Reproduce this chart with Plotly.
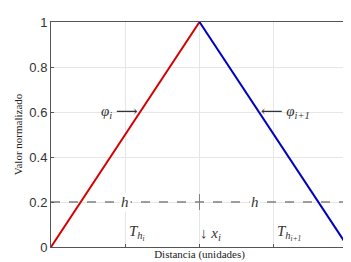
import plotly.graph_objects as go

x_left = [0, 2]
y_left = [0, 1]
x_right = [2, 4]
y_right = [1, 0]
h_level = 0.2
y_ticks = [0, 0.2, 0.4, 0.6, 0.8, 1]
y_ticklabels = ["0", "0.2", "0.4", "0.6", "0.8", "1"]
x_grid = [0, 1, 2, 3, 4]

fig = go.Figure()
fig.add_trace(go.Scatter(x=x_left, y=y_left, mode="lines",
                         line=dict(color="#d40000", width=2), showlegend=False))
fig.add_trace(go.Scatter(x=x_right, y=y_right, mode="lines",
                         line=dict(color="#0000c0", width=2), showlegend=False))
fig.add_trace(go.Scatter(x=[0, 4], y=[h_level, h_level], mode="lines",
                         line=dict(color="#808080", width=1.5, dash="dash"), showlegend=False))
fig.add_trace(go.Scatter(x=[2, 2], y=[h_level - 0.035, h_level + 0.035], mode="lines",
                         line=dict(color="#808080", width=1), showlegend=False))

mfont = dict(family="Liberation Serif, DejaVu Serif, serif", size=15, color="#333333")
ann = [
    (1.2, 0.6, "<i>φ<sub>i</sub></i> ⟶", "right", "middle"),
    (2.8, 0.6, "⟵ <i>φ<sub>i+1</sub></i>", "left", "middle"),
    (1.0, 0.2, "<i>h</i>", "center", "middle"),
    (2.75, 0.2, "<i>h</i>", "center", "middle"),
    (1.02, 0.0, "<i>T<sub>h<sub>i</sub></sub></i>", "left", "bottom"),
    (1.98, 0.0, "↓ <i>x<sub>i</sub></i>", "left", "bottom"),
    (3.02, 0.0, "<i>T<sub>h<sub>i+1</sub></sub></i>", "left", "bottom"),
]
for ax, ay, t, xa, ya in ann:
    fig.add_annotation(x=ax, y=ay, text=t, showarrow=False, xanchor=xa,
                       yanchor=ya, font=mfont, yshift=2 if ya == "bottom" else 0,
                       bgcolor="white" if xa == "center" else "rgba(0,0,0,0)")

fig.update_layout(
    width=351, height=262,
    margin=dict(l=43, r=11, t=14, b=23, autoexpand=False),
    paper_bgcolor="white", plot_bgcolor="white",
    xaxis=dict(range=[0, 4], tickvals=x_grid, showticklabels=False, showgrid=True,
               gridcolor="#e6e6e6", showline=True, linecolor="#555555", mirror=True,
               ticks="inside", ticklen=3, tickcolor="#555555", zeroline=False,
               automargin=False,
               title=dict(text="Distancia (unidades)", standoff=3,
                          font=dict(family="Liberation Serif, serif", size=11, color="#222222"))),
    yaxis=dict(range=[0, 1], tickvals=y_ticks, ticktext=y_ticklabels, showgrid=True,
               gridcolor="#e6e6e6", showline=True, linecolor="#555555", mirror=True,
               ticks="inside", ticklen=3, tickcolor="#555555", zeroline=False,
               automargin=False,
               tickfont=dict(family="Liberation Sans, Arial, sans-serif", size=13, color="#333333"),
               title=dict(text="Valor normalizado", standoff=4,
                          font=dict(family="Liberation Serif, serif", size=11, color="#222222"))),
)
fig.write_html("out.html")
